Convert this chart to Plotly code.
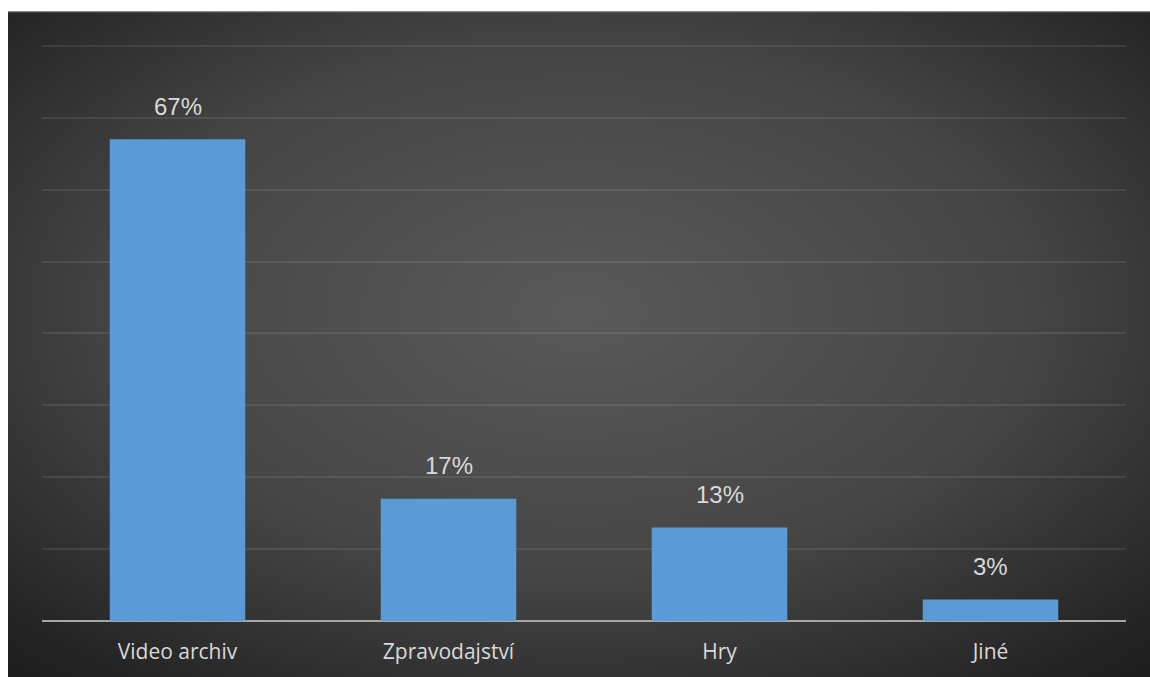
import base64
import plotly.graph_objects as go

categories = ["Video archiv", "Zpravodajství", "Hry", "Jiné"]
shares = [67, 17, 13, 3]
y_ticks = [0, 10, 20, 30, 40, 50, 60, 70, 80]

W, H = 1150, 677
Y_MAX = 80.4
ML, MR, MB = 42, 24, 56
px_per_unit = 575 / 80
MT = round(H - MB - Y_MAX * px_per_unit)
plot_w = W - ML - MR
plot_h = H - MT - MB

# dark radial-gradient panel behind the chart
bg_svg = (
    '<svg xmlns="http://www.w3.org/2000/svg" width="1142" height="666" '
    'viewBox="0 0 1142 666" preserveAspectRatio="none">'
    '<defs><radialGradient id="g" cx="0.5" cy="0.45" r="0.72">'
    '<stop offset="0" stop-color="#5a5a5a"/>'
    '<stop offset="0.55" stop-color="#454545"/>'
    '<stop offset="1" stop-color="#1f1f1f"/>'
    '</radialGradient></defs>'
    '<rect x="0" y="0" width="1142" height="666" fill="url(#g)"/>'
    '<line x1="0" y1="0.5" x2="1142" y2="0.5" stroke="#8a8a8a" stroke-width="1.5"/>'
    '</svg>'
)
bg_uri = "data:image/svg+xml;base64," + base64.b64encode(bg_svg.encode()).decode()

panel_x0, panel_y0, panel_x1, panel_y1 = 8, 11, 1150, 677

fig = go.Figure()
fig.add_trace(go.Bar(
    x=categories,
    y=shares,
    marker=dict(color="#5a9ad6", line=dict(width=0)),
    width=0.5,
    hoverinfo="skip",
))

for c, v in zip(categories, shares):
    fig.add_annotation(
        x=c, y=v, text=f"{v}%", showarrow=False, yshift=33,
        font=dict(family="Liberation Sans, Arial, sans-serif", size=24, color="#d9d9d9"),
    )

fig.add_layout_image(dict(
    source=bg_uri, xref="paper", yref="paper",
    x=(panel_x0 - ML) / plot_w, y=(H - MB - panel_y0) / plot_h,
    sizex=(panel_x1 - panel_x0) / plot_w, sizey=(panel_y1 - panel_y0) / plot_h,
    xanchor="left", yanchor="top", sizing="stretch", layer="below",
))

fig.update_layout(
    width=W, height=H,
    margin=dict(l=ML, r=MR, t=MT, b=MB),
    paper_bgcolor="white",
    plot_bgcolor="rgba(0,0,0,0)",
    showlegend=False,
    bargap=0.5,
)
fig.update_xaxes(
    showgrid=False, showline=False, zeroline=False,
    ticks="outside", ticklen=12, tickcolor="rgba(0,0,0,0)",
    tickfont=dict(family="Open Sans, Noto Sans, sans-serif", size=21, color="#d9d9d9"),
)
fig.update_yaxes(
    range=[0, Y_MAX], tickvals=y_ticks, showticklabels=False,
    showgrid=True, gridcolor="rgba(255,255,255,0.09)", gridwidth=1.5,
    zeroline=True, zerolinecolor="#a6a6a6", zerolinewidth=2,
    showline=False, fixedrange=True,
)

fig.write_html("out.html")
